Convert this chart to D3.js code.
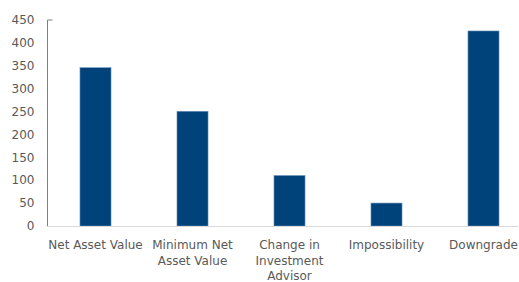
<!DOCTYPE html>
<html>
<head>
<meta charset="UTF-8">
<script src="https://cdnjs.cloudflare.com/ajax/libs/d3/7.8.5/d3.min.js"></script>
<style>
  body { margin: 0; background: #fff; }
  text { font-family: "DejaVu Sans", Verdana, sans-serif; fill: #595959; }
</style>
</head>
<body>
<div id="chart"></div>
<script>
const categories = [
    ['Net Asset Value'],
    ['Minimum Net', 'Asset Value'],
    ['Change in', 'Investment', 'Advisor'],
    ['Impossibility'],
    ['Downgrade']
];
const values = [345, 250, 110, 50, 425];
const yTicks = [0, 50, 100, 150, 200, 250, 300, 350, 400, 450];

const width = 519, height = 282;
const margin = {top: 19.5, left: 47, bottom: 226};

const svg = d3.select('#chart').append('svg')
    .attr('width', width).attr('height', height);

const names = categories.map(c => c.join(' '));

const x = d3.scaleBand()
    .domain(names)
    .range([margin.left, margin.left + 97 * 5])
    .paddingInner(0.68).paddingOuter(0.34);

const y = d3.scaleLinear()
    .domain([0, 450])
    .range([margin.bottom, margin.top]);

// bars
svg.selectAll('rect.bar')
    .data(values)
    .enter().append('rect')
    .attr('class', 'bar')
    .attr('x', (d, i) => x(names[i]))
    .attr('y', d => y(d))
    .attr('width', x.bandwidth())
    .attr('height', d => y(0) - y(d))
    .attr('fill', '#00427a')
    .attr('stroke', '#6f93b8')
    .attr('stroke-width', 0.6);

// baseline
svg.append('line')
    .attr('x1', margin.left).attr('x2', 518)
    .attr('y1', y(0) + 0.5).attr('y2', y(0) + 0.5)
    .attr('stroke', '#d9d9d9').attr('stroke-width', 1);

// y axis
const yAxis = svg.append('g')
    .attr('transform', `translate(${margin.left + 0.5},0)`)
    .call(d3.axisLeft(y).tickValues(yTicks).tickSizeInner(0).tickSizeOuter(0).tickPadding(13));
yAxis.select('.domain').remove();
yAxis.selectAll('text').style('font-size', '12px').attr('fill', '#595959');
svg.append('path')
    .attr('d', `M${margin.left + 5.5},${y(450) + 0.5}H${margin.left + 0.5}V${y(0)}`)
    .attr('fill', 'none').attr('stroke', '#7f7f7f').attr('stroke-width', 1);

// x labels
const lbl = svg.append('g');
categories.forEach((lines, i) => {
    const t = lbl.append('text')
        .attr('x', x(names[i]) + x.bandwidth() / 2)
        .attr('y', 249)
        .attr('text-anchor', 'middle')
        .style('font-size', '12px');
    lines.forEach((s, j) => {
        t.append('tspan').attr('x', x(names[i]) + x.bandwidth() / 2)
            .attr('dy', j === 0 ? 0 : 15.5).text(s);
    });
});
</script>
</body>
</html>
